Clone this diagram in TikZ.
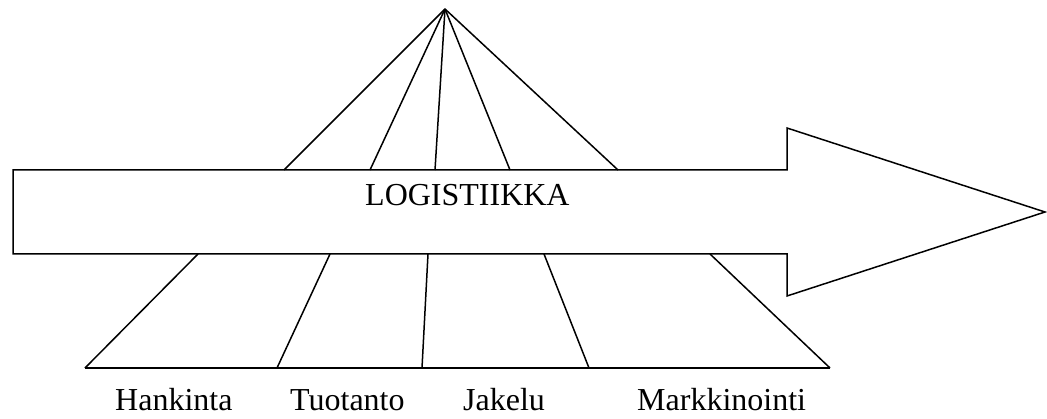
\documentclass[tikz,border=0pt]{standalone}
\usepackage{fontspec}
\setmainfont{Liberation Serif}
\begin{document}
\begin{tikzpicture}[x=1pt,y=-1pt,
  edge/.style={line width=1.5pt,line join=miter},
  lbl/.style={anchor=base west,inner sep=0pt,font=\fontsize{32}{38}\selectfont}]
\useasboundingbox (0,0) rectangle (1047,419);
% big arrow
\draw[edge] (13,170) -- (787,170) -- (787,128) -- (1045,212) -- (787,296) -- (787,254) -- (13,254) -- cycle;
% apex and fan of lines
\coordinate (apex) at (445,9);
\foreach \x [count=\i] in {284,370,435,510,618}
  \coordinate (t\i) at (\x,170);
\foreach \i in {1,...,5}
  \draw[edge] (apex) -- (t\i);
% lower trapezoid
\foreach \x [count=\i] in {198,330,428,544,710}
  \coordinate (u\i) at (\x,254);
\foreach \x [count=\i] in {85,277,422,589,830}
  \coordinate (b\i) at (\x,368);
\foreach \i in {1,...,5}
  \draw[edge] (u\i) -- (b\i);
\draw[edge] (b1) -- (b5);
% labels
\node[lbl] (logi) at (365,206) {LOGISTIIKKA};
\node[lbl] (han) at (115,411) {Hankinta};
\node[lbl] (tuo) at (290,411) {Tuotanto};
\node[lbl] (jak) at (463,411) {Jakelu};
\node[lbl] (mar) at (637,411) {Markkinointi};
\end{tikzpicture}
\end{document}
